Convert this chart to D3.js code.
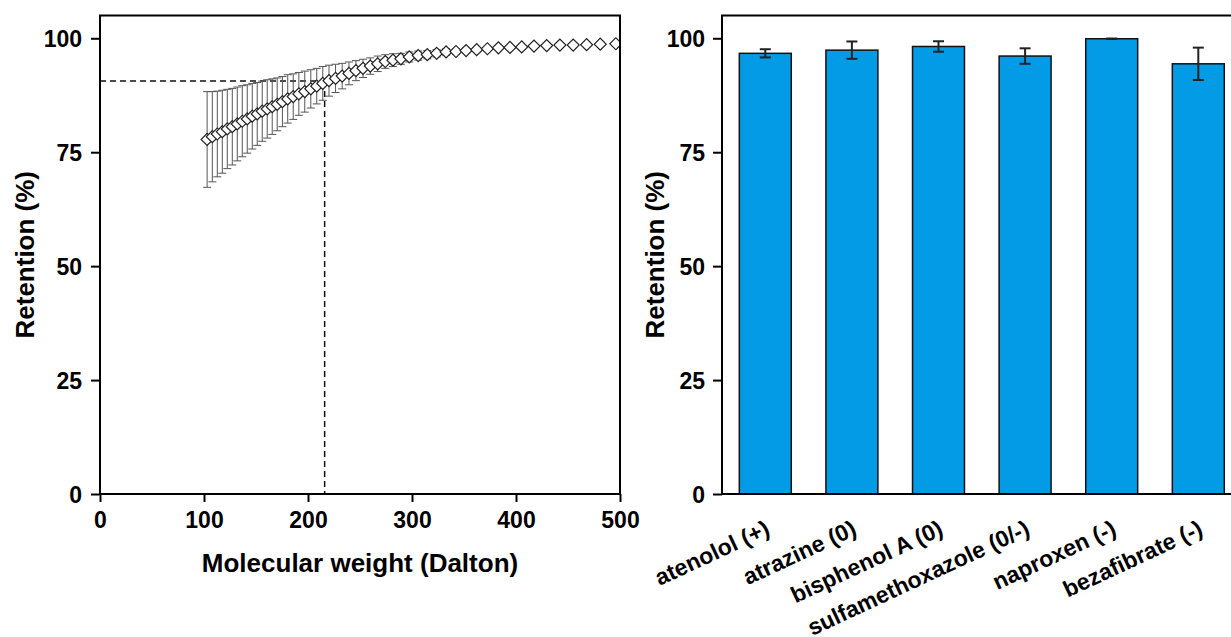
<!DOCTYPE html>
<html>
<head>
<meta charset="utf-8">
<script src="https://cdn.jsdelivr.net/npm/d3@7"></script>
<style>
  body { margin: 0; background: #fff; }
  svg text { font-family: "Liberation Sans", Arial, sans-serif; font-weight: bold; fill: #000; }
</style>
</head>
<body>
<svg id="fig" width="1231" height="637"></svg>
<script>
// left panel: retention vs molecular weight
var mw = [103, 108, 112.8, 117.6, 122.4, 127.2, 132, 136.8, 141.6, 146.4,
    151.2, 156, 160.8, 165.6, 170.4, 175.4, 180.5, 185.8, 191.2, 196.9,
    202.7, 208.4, 214.2, 220.2, 226.5, 232.9, 239.4, 246.1, 252.9, 259.9,
    267, 274.3, 281.7, 289.3, 297.4, 306, 314.7, 323.7, 332.8, 342.3,
    352, 362.2, 372.5, 383.1, 394.2, 405.5, 417.3, 429.5, 442.2, 455,
    467.9, 481, 496];
var retention = [77.8, 78.4, 79.0, 79.5, 80.1, 80.6, 81.2, 81.8, 82.3, 82.9,
    83.4, 84.0, 84.5, 85.0, 85.5, 86.1, 86.7, 87.2, 87.8, 88.3,
    88.9, 89.5, 90.1, 90.7, 91.2, 91.7, 92.3, 92.9, 93.4, 93.9,
    94.4, 94.9, 95.2, 95.5, 95.9, 96.2, 96.4, 96.7, 97.0, 97.1,
    97.3, 97.5, 97.7, 97.9, 98.0, 98.1, 98.3, 98.4, 98.5, 98.5,
    98.6, 98.7, 98.8];
var retentionSd = [10.5, 9.9, 9.4, 9.1, 8.7, 8.4, 8.1, 7.8, 7.5, 7.2,
    6.9, 6.6, 6.4, 6.1, 5.8, 5.5, 5.3, 5.0, 4.7, 4.5,
    4.2, 3.9, 3.7, 3.4, 3.1, 2.8, 2.5, 2.2, 2.0, 1.8,
    1.7, 1.5, 1.4, 1.2, 1.1, 1.0, 0.9, 0.8, 0.7, 0.6,
    0.5, 0.4, 0.35, 0.3, 0.25, 0.2, 0.15, 0.15, 0.1, 0.1,
    0.1, 0.1, 0.1];
var cutoffMw = 216, cutoffRet = 90.6;
var xTicks = [0, 100, 200, 300, 400, 500];
var yTicks = [0, 25, 50, 75, 100];

// right panel: compound retention
var compounds = ["atenolol (+)", "atrazine (0)", "bisphenol A (0)",
    "sulfamethoxazole (0/-)", "naproxen (-)", "bezafibrate (-)"];
var compoundRet = [96.7, 97.4, 98.2, 96.1, 99.9, 94.4];
var compoundSd = [0.9, 1.9, 1.15, 1.7, 0.05, 3.55];

var svg = d3.select("#fig"),
    plotTop = 15.5,
    plotBottom = 494,
    fontTick = 23,
    fontTitle = 26;

var y = d3.scaleLinear().domain([0, 105]).range([plotBottom, plotTop]);

// ---------- left panel ----------
var xL = d3.scaleLinear().domain([0, 500]).range([100, 620]);
var left = svg.append("g");

left.append("defs").append("clipPath").attr("id", "clipL")
  .append("rect")
    .attr("x", xL(0)).attr("y", plotTop)
    .attr("width", xL(500) - xL(0)).attr("height", plotBottom - plotTop);

var plotL = left.append("g").attr("clip-path", "url(#clipL)");

// dashed cut-off guides
plotL.append("line")
    .attr("x1", xL(0)).attr("x2", xL(cutoffMw))
    .attr("y1", y(cutoffRet)).attr("y2", y(cutoffRet))
    .attr("stroke", "#111").attr("stroke-width", 1.5).attr("stroke-dasharray", "6,4");
plotL.append("line")
    .attr("x1", xL(cutoffMw)).attr("x2", xL(cutoffMw))
    .attr("y1", y(cutoffRet)).attr("y2", plotBottom)
    .attr("stroke", "#111").attr("stroke-width", 1.5).attr("stroke-dasharray", "6,4");

var pts = mw.map(function(m, i) { return { m: m, r: retention[i], sd: retentionSd[i] }; });

var err = plotL.selectAll(".err").data(pts).enter().append("g").attr("class", "err")
    .attr("stroke", "#555").attr("stroke-width", 1);
err.append("line")
    .attr("x1", function(d) { return xL(d.m); }).attr("x2", function(d) { return xL(d.m); })
    .attr("y1", function(d) { return y(d.r + d.sd); }).attr("y2", function(d) { return y(d.r - d.sd); });
[1, -1].forEach(function(s) {
    err.append("line")
        .attr("x1", function(d) { return xL(d.m) - 4; }).attr("x2", function(d) { return xL(d.m) + 4; })
        .attr("y1", function(d) { return y(d.r + s * d.sd); })
        .attr("y2", function(d) { return y(d.r + s * d.sd); });
});

var diamond = d3.symbol().type(d3.symbolSquare).size(72);
plotL.selectAll(".pt").data(pts).enter().append("path").attr("class", "pt")
    .attr("d", diamond)
    .attr("transform", function(d) { return "translate(" + xL(d.m) + "," + y(d.r) + ") rotate(45)"; })
    .attr("fill", "#fff").attr("stroke", "#222").attr("stroke-width", 1.2);

// axes
var axL = left.append("g").attr("transform", "translate(" + xL(0) + ",0)")
    .call(d3.axisLeft(y).tickValues(yTicks).tickSize(9).tickPadding(9).tickSizeOuter(0));
var axB = left.append("g").attr("transform", "translate(0," + plotBottom + ")")
    .call(d3.axisBottom(xL).tickValues(xTicks).tickSize(8).tickPadding(9).tickSizeOuter(0));
[axL, axB].forEach(function(a) {
    a.select(".domain").remove();
    a.selectAll("line").attr("stroke", "#000").attr("stroke-width", 2);
    a.selectAll("text").attr("font-size", fontTick).attr("font-family", null).attr("fill", "#000");
});
axL.selectAll("text").attr("dy", "0.36em");
axB.selectAll("text").attr("dy", "0.74em");

left.append("rect")
    .attr("x", xL(0)).attr("y", plotTop)
    .attr("width", xL(500) - xL(0)).attr("height", plotBottom - plotTop)
    .attr("fill", "none").attr("stroke", "#000").attr("stroke-width", 2);

left.append("text")
    .attr("x", (xL(0) + xL(500)) / 2).attr("y", 572)
    .attr("text-anchor", "middle").attr("font-size", fontTitle)
    .text("Molecular weight (Dalton)");
left.append("text")
    .attr("transform", "translate(34," + (plotTop + plotBottom) / 2 + ") rotate(-90)")
    .attr("text-anchor", "middle").attr("font-size", fontTitle)
    .text("Retention (%)");

// ---------- right panel ----------
var xR = d3.scaleBand().domain(compounds).range([722, 1241.6])
    .paddingInner(0.4).paddingOuter(0.2);
var right = svg.append("g");

var bars = compounds.map(function(c, i) { return { c: c, r: compoundRet[i], sd: compoundSd[i] }; });

right.selectAll(".bar").data(bars).enter().append("rect").attr("class", "bar")
    .attr("x", function(d) { return xR(d.c); })
    .attr("y", function(d) { return y(d.r); })
    .attr("width", xR.bandwidth())
    .attr("height", function(d) { return plotBottom - y(d.r); })
    .attr("fill", "#039be5").attr("stroke", "#111").attr("stroke-width", 1.5);

var errR = right.selectAll(".errR").data(bars).enter().append("g").attr("class", "errR")
    .attr("stroke", "#222").attr("stroke-width", 2);
errR.append("line")
    .attr("x1", function(d) { return xR(d.c) + xR.bandwidth() / 2; })
    .attr("x2", function(d) { return xR(d.c) + xR.bandwidth() / 2; })
    .attr("y1", function(d) { return y(d.r + d.sd); }).attr("y2", function(d) { return y(d.r - d.sd); });
[1, -1].forEach(function(s) {
    errR.append("line")
        .attr("x1", function(d) { return xR(d.c) + xR.bandwidth() / 2 - 5.5; })
        .attr("x2", function(d) { return xR(d.c) + xR.bandwidth() / 2 + 5.5; })
        .attr("y1", function(d) { return y(d.r + s * d.sd); })
        .attr("y2", function(d) { return y(d.r + s * d.sd); });
});

var axR = right.append("g").attr("transform", "translate(722,0)")
    .call(d3.axisLeft(y).tickValues(yTicks).tickSize(9).tickPadding(8).tickSizeOuter(0));
axR.select(".domain").remove();
axR.selectAll("line").attr("stroke", "#000").attr("stroke-width", 2);
axR.selectAll("text").attr("font-size", fontTick).attr("font-family", null).attr("fill", "#000").attr("dy", "0.36em");

right.append("rect")
    .attr("x", 722).attr("y", plotTop)
    .attr("width", 1241.6 - 722).attr("height", plotBottom - plotTop)
    .attr("fill", "none").attr("stroke", "#000").attr("stroke-width", 2);

right.selectAll(".lab").data(compounds).enter().append("text").attr("class", "lab")
    .attr("transform", function(d) {
        return "translate(" + (xR(d) + xR.bandwidth() / 2 + 6) + ",534) rotate(-25)";
    })
    .attr("text-anchor", "end").attr("font-size", 23)
    .text(function(d) { return d; });

right.append("text")
    .attr("transform", "translate(664," + (plotTop + plotBottom) / 2 + ") rotate(-90)")
    .attr("text-anchor", "middle").attr("font-size", fontTitle)
    .text("Retention (%)");
</script>
</body>
</html>
